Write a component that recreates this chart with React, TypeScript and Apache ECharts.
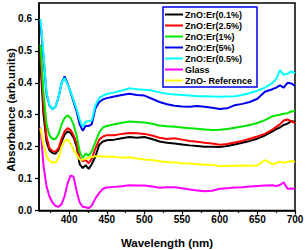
import React, { useEffect, useRef } from "react";
import * as echarts from "echarts";

const wavelength = [362, 366, 370, 374, 378, 382, 386, 390, 394, 398, 402, 406, 410, 414, 418, 422, 426, 430, 435, 440, 445, 450, 460, 470, 480, 490, 500, 510, 520, 530, 540, 550, 560, 570, 580, 590, 600, 610, 620, 630, 640, 650, 660, 670, 675, 680, 685, 690, 695, 700];

const er01 = [0.46, 0.30, 0.215, 0.188, 0.18, 0.178, 0.19, 0.215, 0.238, 0.248,
  0.243, 0.228, 0.2, 0.145, 0.133, 0.142, 0.13, 0.145, 0.17, 0.206,
  0.216, 0.22, 0.222, 0.226, 0.23, 0.228, 0.23, 0.224, 0.216, 0.212,
  0.21, 0.207, 0.204, 0.202, 0.2, 0.2, 0.199, 0.202, 0.207, 0.212,
  0.218, 0.225, 0.235, 0.248, 0.255, 0.26, 0.268, 0.272, 0.28, 0.278];

const er25 = [0.49, 0.33, 0.23, 0.195, 0.186, 0.185, 0.195, 0.225, 0.248, 0.258,
  0.252, 0.235, 0.21, 0.165, 0.155, 0.158, 0.148, 0.162, 0.195, 0.222,
  0.232, 0.236, 0.236, 0.24, 0.243, 0.242, 0.24, 0.235, 0.228, 0.224,
  0.226, 0.222, 0.218, 0.215, 0.212, 0.21, 0.206, 0.208, 0.213, 0.218,
  0.225, 0.232, 0.24, 0.253, 0.262, 0.27, 0.282, 0.285, 0.28, 0.274];

const er1 = [0.52, 0.37, 0.27, 0.235, 0.224, 0.224, 0.24, 0.27, 0.29, 0.298,
  0.29, 0.268, 0.235, 0.185, 0.165, 0.178, 0.172, 0.185, 0.215, 0.245,
  0.26, 0.265, 0.27, 0.275, 0.279, 0.277, 0.276, 0.272, 0.266, 0.264,
  0.262, 0.26, 0.258, 0.256, 0.254, 0.252, 0.253, 0.255, 0.259, 0.263,
  0.268, 0.274, 0.283, 0.295, 0.298, 0.3, 0.303, 0.305, 0.31, 0.312];

const er5 = [0.59, 0.48, 0.365, 0.328, 0.318, 0.325, 0.355, 0.40, 0.42, 0.398,
  0.37, 0.34, 0.31, 0.27, 0.25, 0.265, 0.265, 0.27, 0.32, 0.34,
  0.348, 0.352, 0.357, 0.362, 0.366, 0.362, 0.36, 0.35, 0.34, 0.333,
  0.328, 0.326, 0.325, 0.327, 0.325, 0.322, 0.318, 0.32, 0.33, 0.334,
  0.34, 0.35, 0.372, 0.38, 0.385, 0.392, 0.385, 0.40, 0.398, 0.39];

const er05 = [0.60, 0.49, 0.37, 0.33, 0.318, 0.325, 0.355, 0.40, 0.415, 0.395,
  0.372, 0.345, 0.318, 0.285, 0.262, 0.278, 0.28, 0.282, 0.33, 0.352,
  0.36, 0.365, 0.37, 0.376, 0.383, 0.38, 0.378, 0.376, 0.37, 0.366,
  0.363, 0.362, 0.36, 0.358, 0.358, 0.357, 0.356, 0.357, 0.358, 0.362,
  0.368, 0.375, 0.385, 0.40, 0.412, 0.44, 0.425, 0.428, 0.436, 0.43];

const glass = [0.26, 0.14, 0.075, 0.043, 0.025, 0.014, 0.012, 0.02, 0.045, 0.085,
  0.11, 0.105, 0.06, 0.025, 0.012, 0.01, 0.007, 0.015, 0.038, 0.055,
  0.068, 0.072, 0.074, 0.076, 0.079, 0.078, 0.078, 0.075, 0.071, 0.073,
  0.073, 0.07, 0.066, 0.063, 0.06, 0.062, 0.068, 0.07, 0.072, 0.073,
  0.075, 0.077, 0.078, 0.079, 0.077, 0.08, 0.088, 0.068, 0.069, 0.068];

const znoRef = [0.258, 0.205, 0.17, 0.155, 0.151, 0.15, 0.165, 0.198, 0.218, 0.222,
  0.21, 0.19, 0.175, 0.16, 0.159, 0.162, 0.165, 0.168, 0.17, 0.17,
  0.169, 0.168, 0.168, 0.165, 0.167, 0.163, 0.16, 0.158, 0.154, 0.152,
  0.15, 0.148, 0.147, 0.145, 0.143, 0.143, 0.139, 0.14, 0.14, 0.141,
  0.14, 0.141, 0.158, 0.145, 0.148, 0.153, 0.15, 0.152, 0.155, 0.153];

const seriesNames = ["ZnO:Er(0.1%)", "ZnO:Er(2.5%)", "ZnO:Er(1%)", "ZnO:Er(5%)", "ZnO:Er(0.5%)", "Glass", "ZnO- Reference"];
const seriesValues = [er01, er25, er1, er5, er05, glass, znoRef];
const seriesColors = ["#000000", "#ff0000", "#00e600", "#0000ee", "#00ffff", "#ff00ff", "#ffff00"];

const majorTicks = [400, 450, 500, 550, 600, 650, 700];
const minorTicks = [375, 425, 475, 525, 575, 625, 675];

const FONT = "'Liberation Sans', Arial, sans-serif";

export default function App() {
  const ref = useRef<HTMLDivElement>(null);
  useEffect(() => {
    if (!ref.current) return;
    const chart = echarts.init(ref.current, null, { renderer: "svg" });
    const option: any = {
      animation: false,
      backgroundColor: "#ffffff",
      grid: {
        left: 39, right: 11, top: 3, bottom: 39.5,
        show: true, borderColor: "#000", borderWidth: 1.5,
        containLabel: false, outerBoundsMode: "none",
      },
      xAxis: [
        {
          type: "value", min: 360, max: 700, position: "bottom",
          name: "Wavelength (nm)", nameLocation: "middle", nameGap: 26,
          nameTextStyle: { fontFamily: FONT, fontWeight: "bold", fontSize: 11.5, color: "#000" },
          axisLine: { show: true, lineStyle: { color: "#000", width: 1.5 } },
          axisTick: { show: true, customValues: majorTicks, length: 4, inside: false, lineStyle: { color: "#000", width: 1.2 } },
          axisLabel: { customValues: majorTicks, fontFamily: FONT, fontWeight: "bold", fontSize: 10, color: "#000", margin: 4 },
          splitLine: { show: false },
        },
        {
          type: "value", min: 360, max: 700, position: "bottom", gridIndex: 0,
          axisLine: { show: false },
          axisTick: { show: true, customValues: minorTicks, length: 2.5, lineStyle: { color: "#000", width: 1.2 } },
          axisLabel: { show: false },
          splitLine: { show: false },
        },
      ],
      yAxis: {
        type: "value", min: 0, max: 0.65, interval: 0.1,
        axisLine: { show: true, lineStyle: { color: "#000", width: 1.5 } },
        axisTick: { show: true, length: 4, lineStyle: { color: "#000", width: 1.2 } },
        axisLabel: {
          fontFamily: FONT, fontWeight: "bold", fontSize: 10, color: "#000", margin: 7,
          showMaxLabel: false,
          formatter: (v: number) => (v > 0.61 ? "" : v.toFixed(1)),
        },
        splitLine: { show: false },
      },
      legend: {
        orient: "vertical", left: 163, top: 7,
        icon: "rect", itemWidth: 18, itemHeight: 2, itemGap: 0,
        padding: [2, 5, 1, 2],
        borderColor: "#0000ee", borderWidth: 1.5,
        backgroundColor: "#ffffff",
        textStyle: { fontFamily: FONT, fontWeight: "bold", fontSize: 9, color: "#000", lineHeight: 11, padding: [0, 0, 0, -3] },
        data: seriesNames,
      },
      graphic: [
        {
          type: "text",
          x: 11, y: 110,
          rotation: Math.PI / 2,
          style: {
            text: "Absorbance (arb.units)", fontFamily: FONT, fontWeight: "bold", fontSize: 11.3, fill: "#000",
            textAlign: "center", textVerticalAlign: "middle",
          },
        },
      ],
      series: seriesNames.map((name, i) => ({
        name, type: "line", xAxisIndex: 0,
        symbol: "none", showSymbol: false,
        color: seriesColors[i],
        lineStyle: { color: seriesColors[i], width: 2 },
        data: wavelength.map((w, j) => [w, seriesValues[i][j]]),
        z: 2 + i,
      })),
    };
    chart.setOption(option);
    return () => chart.dispose();
  }, []);
  return <div ref={ref} style={{ position: "absolute", left: 0, top: 0, width: 306, height: 250 }} />;
}
